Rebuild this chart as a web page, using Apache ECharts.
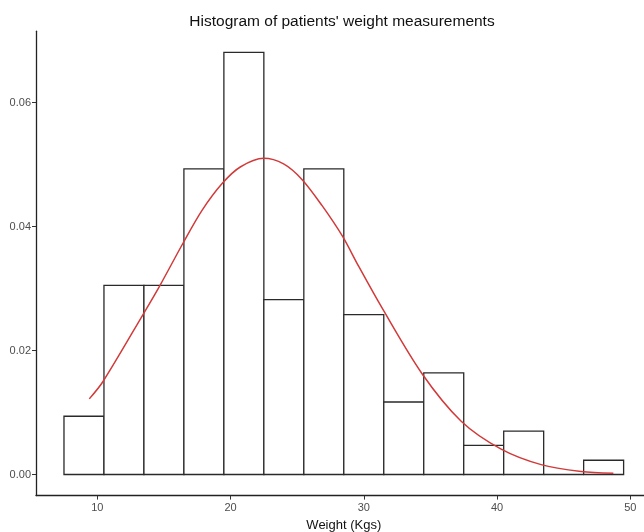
<!DOCTYPE html>
<html>
<head>
<meta charset="utf-8">
<script src="https://cdn.jsdelivr.net/npm/echarts@6/dist/echarts.min.js"></script>
<style>
html,body{margin:0;padding:0;background:#fff;overflow:hidden;}
#chart{width:644px;height:532px;}
</style>
</head>
<body>
<div id="chart"></div>
<script>
// Histogram bins (Weight, Kgs)
const binStart = [7.5, 10.5, 13.5, 16.5, 19.5, 22.5, 25.5, 28.5, 31.5, 34.5, 37.5, 40.5, 43.5, 46.5];
const binEnd   = [10.5, 13.5, 16.5, 19.5, 22.5, 25.5, 28.5, 31.5, 34.5, 37.5, 40.5, 43.5, 46.5, 49.5];
const density  = [0.0094, 0.0305, 0.0305, 0.0493, 0.0681, 0.0282, 0.0493, 0.0258, 0.0117, 0.0164, 0.0047, 0.0070, 0.0000, 0.0023];

// Fitted density curve
const curveX = [9.40, 10.43, 13.43, 14.73, 16.43, 17.86, 19.40, 20.73, 22.48, 23.98, 25.36, 26.86, 28.41, 29.61, 31.36, 34.36, 37.31, 40.31, 43.31, 46.31, 48.73];
const curveY = [0.0122, 0.0150, 0.0258, 0.0306, 0.0373, 0.0426, 0.0470, 0.0496, 0.0510, 0.0501, 0.0476, 0.0434, 0.0384, 0.0336, 0.0269, 0.0163, 0.0086, 0.0041, 0.0016, 0.0005, 0.0002];

const xTicks = [10, 20, 30, 40, 50];
const yTicks = [0, 0.02, 0.04, 0.06];

const histData = binStart.map((s, i) => [s, binEnd[i], density[i]]);
const curveData = curveX.map((x, i) => [x, curveY[i]]);

const chart = echarts.init(document.getElementById('chart'), null, {renderer: 'canvas'});
const FONT = 'Liberation Sans, Arial, sans-serif';
const labelFont = {color: '#4d4d4d', fontSize: 11, fontFamily: FONT};

chart.setOption({
  animation: false,
  backgroundColor: '#ffffff',
  title: {
    text: "Histogram of patients' weight measurements",
    left: 337, top: 9, textAlign: 'center',
    textStyle: {color: '#111', fontSize: 15.5, fontWeight: 'normal', fontFamily: FONT}
  },
  grid: {left: 36, top: 31.2, width: 615.6, height: 464.4, containLabel: false, outerBoundsMode: 'none'},
  xAxis: {
    type: 'value', min: 5.4, max: 51.6,
    name: 'Weight (Kgs)', nameLocation: 'middle', nameGap: 20,
    nameTextStyle: {color: '#111', fontSize: 13, fontFamily: FONT},
    axisLine: {show: true, onZero: false, lineStyle: {color: '#222', width: 1.3}},
    axisTick: {show: true, length: 4, customValues: xTicks, lineStyle: {color: '#333', width: 1}},
    axisLabel: Object.assign({customValues: xTicks, margin: 7, formatter: v => String(v)}, labelFont),
    splitLine: {show: false}
  },
  yAxis: {
    type: 'value', min: -0.0034, max: 0.0715,
    axisLine: {show: true, onZero: false, lineStyle: {color: '#222', width: 1.3}},
    axisTick: {show: true, length: 4, customValues: yTicks, lineStyle: {color: '#333', width: 1}},
    axisLabel: Object.assign({customValues: yTicks, margin: 5, formatter: v => v.toFixed(2)}, labelFont),
    splitLine: {show: false}
  },
  series: [
    {
      type: 'custom',
      data: histData,
      encode: {x: [0, 1], y: 2},
      renderItem: function (params, api) {
        const p0 = api.coord([api.value(0), 0]);
        const p1 = api.coord([api.value(1), api.value(2)]);
        return {
          type: 'rect',
          shape: {x: p0[0], y: p1[1], width: p1[0] - p0[0], height: p0[1] - p1[1]},
          style: {fill: '#ffffff', stroke: '#2a2a2a', lineWidth: 1.3}
        };
      },
      z: 2
    },
    {
      type: 'line',
      data: curveData,
      smooth: 0.3,
      showSymbol: false,
      lineStyle: {color: '#d23a3a', width: 1.5},
      z: 3
    }
  ]
});
</script>
</body>
</html>
